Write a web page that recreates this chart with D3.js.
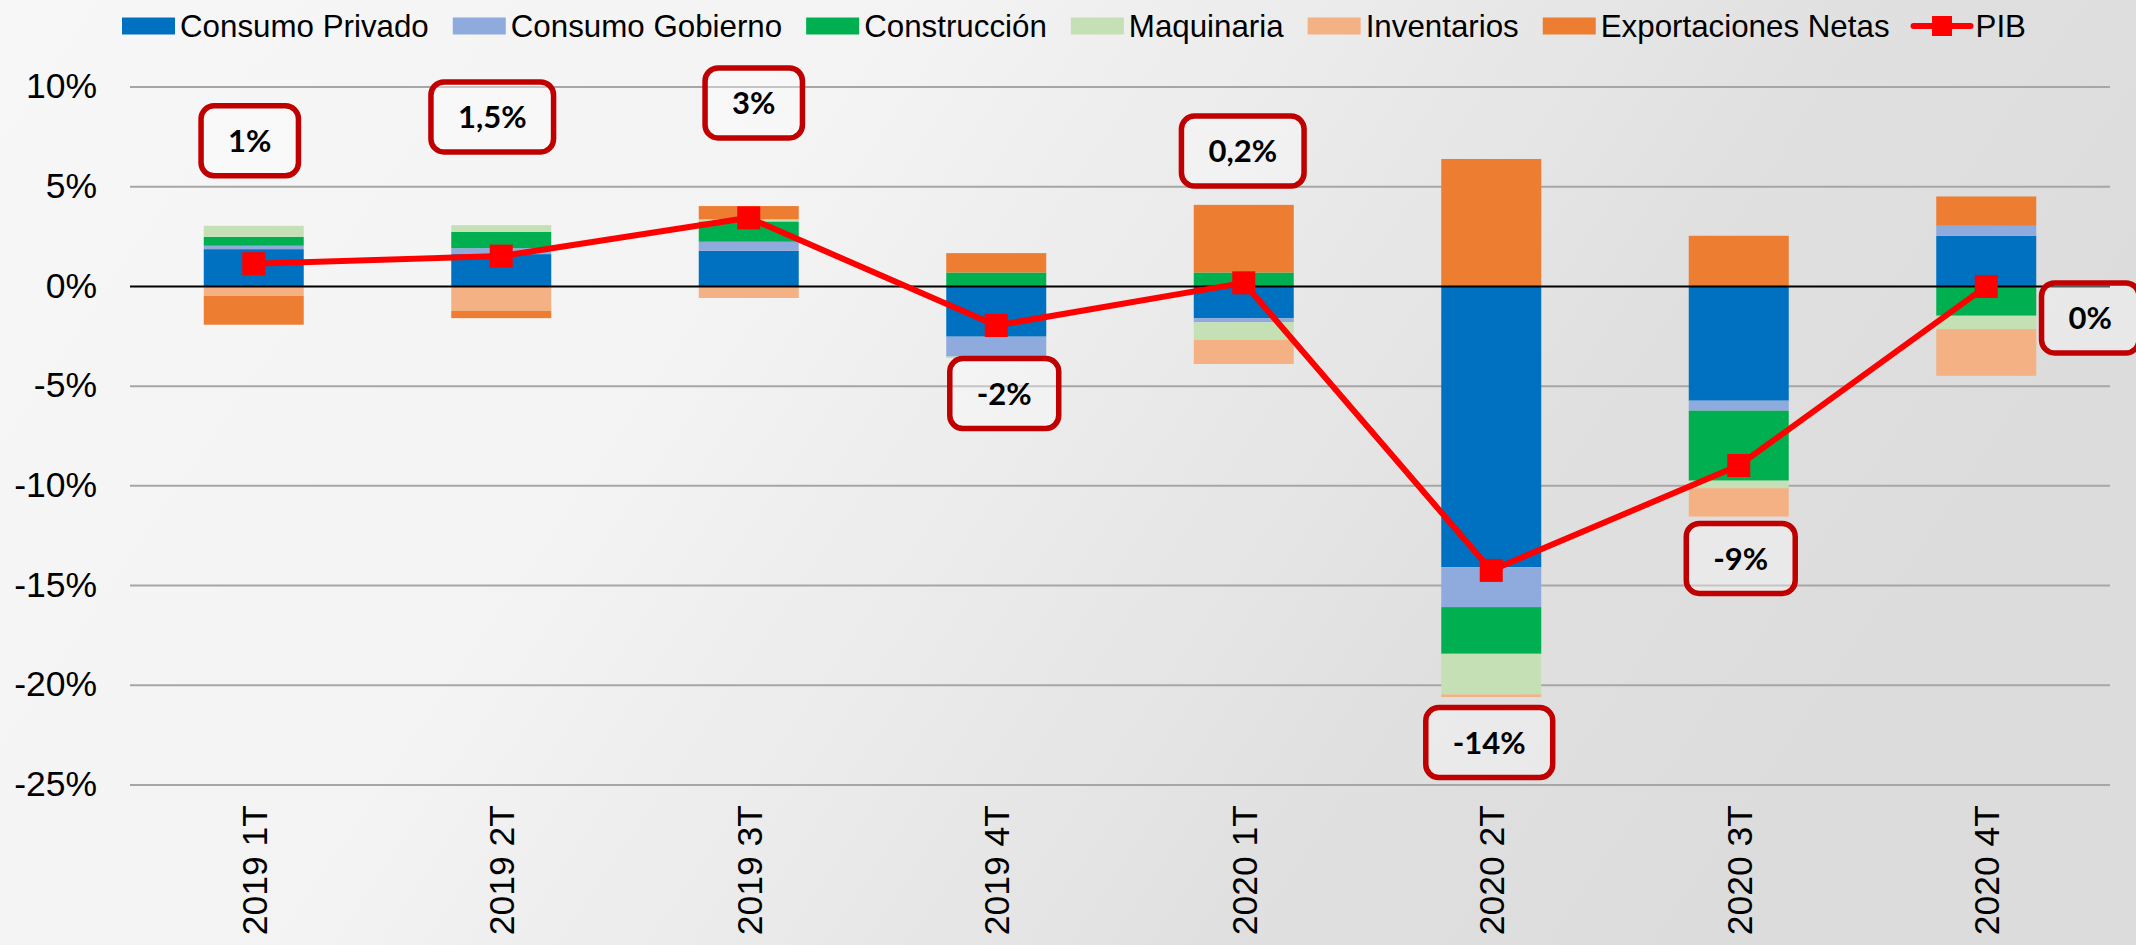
<!DOCTYPE html>
<html>
<head>
<meta charset="utf-8">
<script src="https://cdn.jsdelivr.net/npm/d3@7"></script>
<style>
  html, body { margin: 0; padding: 0; background: #f2f2f2; }
  svg { display: block; }
</style>
</head>
<body>
<svg id="chart" width="2136" height="945"></svg>
<script>
// ---------- DATA ----------
const categories = ["2019 1T", "2019 2T", "2019 3T", "2019 4T", "2020 1T", "2020 2T", "2020 3T", "2020 4T"];
const consumoPrivado   = [1.87, 1.62, 1.79, -2.52, -1.60, -14.08, -5.73, 2.54];
const consumoGobierno  = [0.17, 0.30, 0.45, -1.00, -0.20, -2.00, -0.50, 0.50];
const construccion     = [0.45, 0.82, 1.02, 0.70, 0.70, -2.34, -3.51, -1.47];
const maquinaria       = [0.55, 0.33, 0.10, -0.07, -0.87, -2.04, -0.38, -0.67];
const inventarios      = [-0.47, -1.22, -0.58, 0.00, -1.22, -0.13, -1.42, -2.34];
const exportaciones    = [-1.45, -0.37, 0.67, 0.97, 3.39, 6.39, 2.54, 1.47];
const pib              = [1.14, 1.52, 3.44, -1.96, 0.18, -14.24, -8.98, 0.00];
const pibLabels        = ["1%", "1,5%", "3%", "-2%", "0,2%", "-14%", "-9%", "0%"];
const seriesNames      = ["Consumo Privado", "Consumo Gobierno", "Construcción", "Maquinaria", "Inventarios", "Exportaciones Netas"];
const yTicks           = [10, 5, 0, -5, -10, -15, -20, -25];

// ---------- STYLE / LAYOUT ----------
const colors = ["#0070c0", "#8faadc", "#00b050", "#c5e0b4", "#f4b183", "#ed7d31"];
const pibColor = "#ff0000";
const boxColor = "#c00000";
// annotation box anchors: value (in %) of box centre, and horizontal pixel shift from bar centre
const boxAnchorValue = [7.3, 8.5, 9.2, -5.37, 6.79, -22.87, -13.64, -1.58];
const boxShift       = [-4, -9, 5, 8, -1, -2, 2, 104];

const W = 2136, H = 945;
const plot = { left: 130, right: 2110, top: 87, bottom: 785 };

const svg = d3.select("#chart");

// background
const defs = svg.append("defs");
const grad = defs.append("linearGradient").attr("id", "bg")
  .attr("x1", "0%").attr("y1", "0%").attr("x2", "100%").attr("y2", "30%");
[["0%", "#f7f7f7"], ["40%", "#f3f3f3"], ["62%", "#e9e9e9"], ["80%", "#e0e0e0"], ["100%", "#dcdcdc"]]
  .forEach(([o, c]) => grad.append("stop").attr("offset", o).attr("stop-color", c));
svg.append("rect").attr("width", W).attr("height", H).attr("fill", "url(#bg)");

// scales
const x = d3.scaleBand().domain(categories).range([plot.left, plot.right])
  .paddingInner(0.596).paddingOuter(0.298);
const y = d3.scaleLinear().domain([-25, 10]).range([plot.bottom, plot.top]);

// gridlines
svg.append("g").selectAll("line").data(yTicks.filter(t => t !== 0)).join("line")
  .attr("x1", plot.left).attr("x2", plot.right)
  .attr("y1", d => y(d)).attr("y2", d => y(d))
  .attr("stroke", "#a6a6a6").attr("stroke-width", 2);

// y axis labels
const yAxis = d3.axisLeft(y).tickValues(yTicks).tickFormat(d => d + "%").tickSize(0).tickPadding(0);
const yg = svg.append("g").attr("transform", `translate(${plot.left - 33},0)`).call(yAxis);
yg.select(".domain").remove();
yg.selectAll("text").attr("font-family", "Liberation Sans, Arial, sans-serif")
  .attr("font-size", 35.5).attr("fill", "#000").attr("dy", "0.3em");

// stacked data
const rows = categories.map((c, i) => {
  const r = { cat: c };
  r[seriesNames[0]] = consumoPrivado[i];
  r[seriesNames[1]] = consumoGobierno[i];
  r[seriesNames[2]] = construccion[i];
  r[seriesNames[3]] = maquinaria[i];
  r[seriesNames[4]] = inventarios[i];
  r[seriesNames[5]] = exportaciones[i];
  return r;
});
const stacked = d3.stack().keys(seriesNames).offset(d3.stackOffsetDiverging)(rows);

svg.append("g").selectAll("g").data(stacked).join("g")
  .attr("fill", (d, i) => colors[i])
  .selectAll("rect").data(d => d).join("rect")
  .attr("x", d => x(d.data.cat))
  .attr("width", x.bandwidth())
  .attr("y", d => y(Math.max(d[0], d[1])))
  .attr("height", d => Math.abs(y(d[0]) - y(d[1])));

// zero line
svg.append("line").attr("x1", plot.left).attr("x2", plot.right)
  .attr("y1", y(0)).attr("y2", y(0)).attr("stroke", "#000").attr("stroke-width", 2);

// x axis labels (rotated)
const xAxis = d3.axisBottom(x).tickSize(0).tickPadding(0);
const xg = svg.append("g").attr("transform", `translate(0,${plot.bottom + 20})`).call(xAxis);
xg.select(".domain").remove();
xg.selectAll("text")
  .attr("font-family", "Liberation Sans, Arial, sans-serif").attr("font-size", 35.5).attr("fill", "#000")
  .attr("transform", "rotate(-90)")
  .attr("text-anchor", "end").attr("x", 0).attr("y", 0).attr("dy", "0.36em");

// PIB line
const cx = i => x(categories[i]) + x.bandwidth() / 2;
const line = d3.line().x((d, i) => cx(i)).y(d => y(d));
svg.append("path").datum(pib).attr("d", line)
  .attr("fill", "none").attr("stroke", pibColor).attr("stroke-width", 6).attr("stroke-linejoin", "round");
const ms = 23;
svg.append("g").selectAll("rect").data(pib).join("rect")
  .attr("x", (d, i) => cx(i) - ms / 2).attr("y", d => y(d) - ms / 2)
  .attr("width", ms).attr("height", ms).attr("fill", pibColor);

// annotation boxes
const ann = svg.append("g").selectAll("g").data(pibLabels).join("g")
  .attr("transform", (d, i) => `translate(${cx(i) + boxShift[i]},${y(boxAnchorValue[i])})`);
ann.append("text").text(d => d)
  .attr("font-family", "Lato, 'Open Sans', sans-serif").attr("font-weight", 700)
  .attr("font-size", 31).attr("fill", "#000")
  .attr("text-anchor", "middle").attr("dy", "0.36em");
ann.each(function () {
  const g = d3.select(this);
  const tw = g.select("text").node().getComputedTextLength();
  const bw = Math.max(96, tw + 54), bh = 70;
  g.insert("rect", "text")
    .attr("x", -bw / 2).attr("y", -bh / 2).attr("width", bw).attr("height", bh)
    .attr("rx", 13).attr("ry", 13)
    .attr("fill", "rgba(255,255,255,0.35)")
    .attr("stroke", boxColor).attr("stroke-width", 5.5);
});

// legend
const legend = svg.append("g").attr("transform", "translate(122,26)");
let lx = 0;
const legendFont = "Liberation Sans, Arial, sans-serif";
seriesNames.forEach((name, i) => {
  legend.append("rect").attr("x", lx).attr("y", -8.5).attr("width", 53).attr("height", 17).attr("fill", colors[i]);
  const t = legend.append("text").attr("x", lx + 58).attr("y", 0).attr("dy", "0.35em")
    .attr("font-family", legendFont).attr("font-size", 31.3).attr("fill", "#000").text(name);
  lx += 58 + t.node().getComputedTextLength() + 24;
});
legend.append("line").attr("x1", lx).attr("x2", lx + 57).attr("y1", 0).attr("y2", 0)
  .attr("stroke", pibColor).attr("stroke-width", 6).attr("stroke-linecap", "round");
legend.append("rect").attr("x", lx + 18.5).attr("y", -10).attr("width", 20).attr("height", 20).attr("fill", pibColor);
legend.append("text").attr("x", lx + 62).attr("y", 0).attr("dy", "0.35em")
  .attr("font-family", legendFont).attr("font-size", 31.3).attr("fill", "#000").text("PIB");
</script>
</body>
</html>
